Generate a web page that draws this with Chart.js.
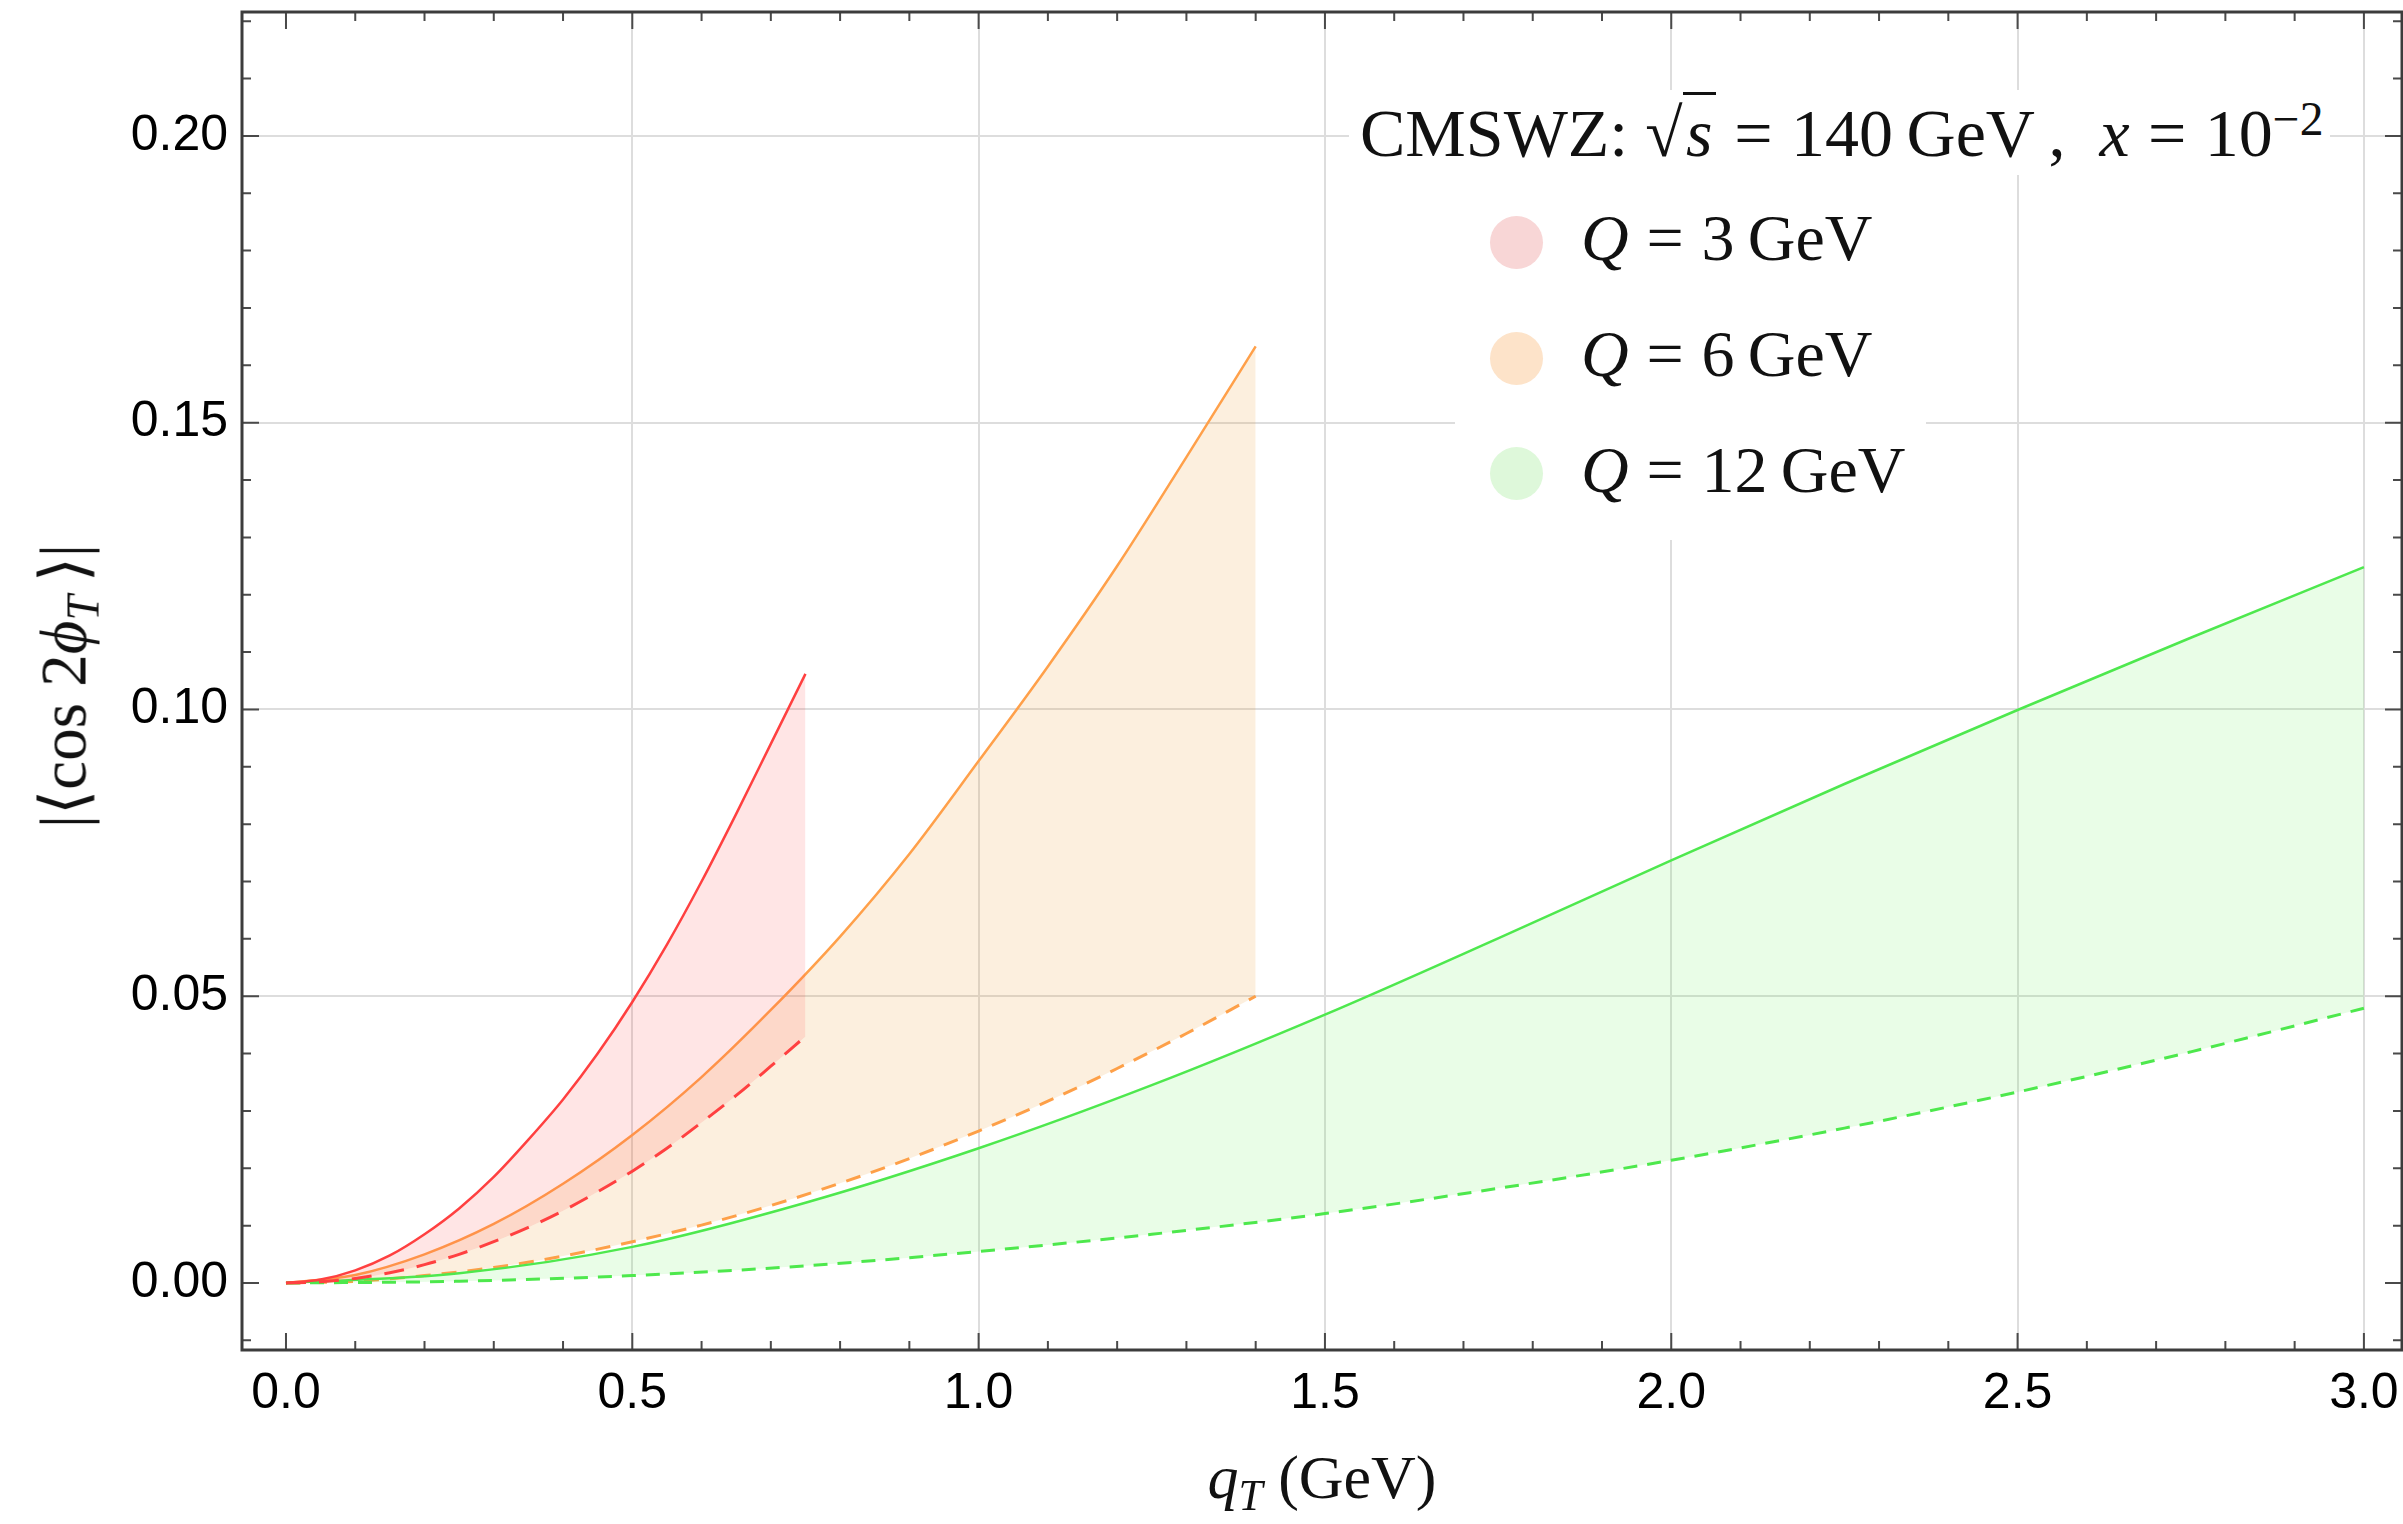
<!DOCTYPE html>
<html>
<head>
<meta charset="utf-8">
<script src="https://cdn.jsdelivr.net/npm/chart.js@4.4.0/dist/chart.umd.min.js"></script>
<style>
  html, body { margin: 0; padding: 0; background: #fff; }
  #wrap { position: relative; width: 2403px; height: 1524px; overflow: hidden; }
  canvas { position: absolute; left: 0; top: 0; }
  .tex { position: absolute; font-family: "Liberation Serif", "DejaVu Serif", serif; color: #111; white-space: nowrap; line-height: 1; }
  .it { font-style: italic; }
  .rel { margin: 0 0.27em; }
  .sub { position: relative; top: 0.28em; font-size: 0.7em; }
  .sup { position: relative; top: -0.45em; font-size: 0.7em; }
  .box { position: absolute; background: #fff; }
  .dot { position: absolute; width: 53px; height: 53px; border-radius: 50%; }
  .rad { border-top: 3px solid #111; padding: 0 0.05em; }
</style>
</head>
<body>
<div id="wrap">
  <canvas id="chart" width="2403" height="1524"></canvas>

  <div class="box" style="left:1349px; top:90px; width:981px; height:85px;"></div>
  <div class="box" style="left:1455px; top:175px; width:471px; height:365px;"></div>

  <div class="tex" style="left:1360px; top:99px; font-size:68px;">CMSWZ:&nbsp;√<span class="it rad">s</span><span class="rel">=</span>140&#8201;GeV&#8201;,&nbsp;&nbsp;<span class="it">x</span><span class="rel">=</span>10<span class="sup">−2</span></div>

  <div class="dot" style="left:1490px; top:216px; background:#f8d6d6;"></div>
  <div class="dot" style="left:1490px; top:332px; background:#fde3c9;"></div>
  <div class="dot" style="left:1490px; top:447px; background:#def8da;"></div>
  <div class="tex" style="left:1581px; top:205px; font-size:66px;"><span class="it">Q</span><span class="rel">=</span>3&#8201;GeV</div>
  <div class="tex" style="left:1581px; top:321px; font-size:66px;"><span class="it">Q</span><span class="rel">=</span>6&#8201;GeV</div>
  <div class="tex" style="left:1581px; top:437px; font-size:66px;"><span class="it">Q</span><span class="rel">=</span>12&#8201;GeV</div>

  <div class="tex" style="left:1322px; top:1446px; font-size:62px; transform:translateX(-50%);"><span class="it">q</span><span class="sub it">T</span>&nbsp;(GeV)</div>
  <div class="tex" style="left:64px; top:686px; font-size:65px; transform:translate(-50%,-50%) rotate(-90deg);">|⟨cos 2<span class="it">ϕ</span><span class="sub it">T</span>&#8201;⟩|</div>
</div>

<script>
// q_T grids and band edges (solid = upper, dashed = lower)
const qtRed = [0, 0.05, 0.1, 0.15, 0.2, 0.25, 0.3, 0.35, 0.4, 0.45, 0.5, 0.55, 0.6, 0.65, 0.7, 0.75];
const redUpper = [0, 0.0006, 0.0022, 0.0048, 0.0085, 0.0130, 0.0185, 0.0250, 0.0320, 0.0400, 0.0490, 0.0590, 0.0700, 0.0818, 0.0940, 0.1062];
const redLower = [0, 0.0002, 0.0008, 0.0018, 0.0032, 0.0050, 0.0072, 0.0097, 0.0126, 0.0159, 0.0195, 0.0235, 0.0280, 0.0327, 0.0378, 0.0430];

const qtOrange = [0, 0.1, 0.2, 0.3, 0.4, 0.5, 0.6, 0.7, 0.8, 0.9, 1.0, 1.1, 1.2, 1.3, 1.4];
const orangeUpper = [0, 0.0014, 0.0050, 0.0103, 0.0173, 0.0258, 0.0359, 0.0476, 0.0604, 0.0748, 0.0910, 0.1075, 0.1250, 0.1440, 0.1633];
const orangeLower = [0, 0.0003, 0.0013, 0.0027, 0.0047, 0.0072, 0.0101, 0.0135, 0.0174, 0.0217, 0.0265, 0.0317, 0.0374, 0.0435, 0.0500];

const qtGreen = [0, 0.25, 0.5, 0.75, 1.0, 1.25, 1.5, 1.75, 2.0, 2.25, 2.5, 2.75, 3.0];
const greenUpper = [0, 0.0017, 0.0063, 0.0140, 0.0235, 0.0345, 0.0468, 0.0601, 0.0737, 0.0870, 0.0999, 0.1125, 0.1248];
const greenLower = [0, 0.0003, 0.0013, 0.0030, 0.0055, 0.0085, 0.0121, 0.0165, 0.0214, 0.0270, 0.0333, 0.0403, 0.0479];

const xTicks = [0, 0.5, 1.0, 1.5, 2.0, 2.5, 3.0];
const yTicks = [0, 0.05, 0.10, 0.15, 0.20];

function pts(xs, ys) {
    return xs.map((x, i) => ({ x: x, y: ys[i] }));
}

function band(xs, upper, lower, line, fill, dash) {
    return [
        {
            data: pts(xs, upper),
            borderColor: line,
            borderWidth: 2.5,
            fill: { target: '+1', above: fill, below: fill }
        },
        {
            data: pts(xs, lower),
            borderColor: line,
            borderWidth: 3,
            borderDash: dash,
            fill: false
        }
    ];
}

// inward frame ticks on all four sides, like the original frame
const frameTicks = {
    id: 'frameTicks',
    afterDatasetsDraw(chart) {
        const { ctx, chartArea: a, scales: { x, y } } = chart;
        ctx.save();
        ctx.strokeStyle = '#4a4a4a';
        ctx.lineWidth = 2;
        ctx.beginPath();
        for (let i = 0; i <= 30; i++) {
            const px = x.getPixelForValue(i / 10);
            const len = i % 5 === 0 ? 17 : 9;
            ctx.moveTo(px, a.bottom); ctx.lineTo(px, a.bottom - len);
            ctx.moveTo(px, a.top); ctx.lineTo(px, a.top + len);
        }
        for (let j = -1; j <= 22; j++) {
            const py = y.getPixelForValue(j / 100);
            const len = j % 5 === 0 ? 17 : 9;
            ctx.moveTo(a.left, py); ctx.lineTo(a.left + len, py);
            ctx.moveTo(a.right, py); ctx.lineTo(a.right - len, py);
        }
        ctx.stroke();
        ctx.lineWidth = 3;
        ctx.strokeStyle = '#3c3c3c';
        ctx.strokeRect(a.left, a.top, a.width, a.height);
        ctx.restore();
    }
};

const gridColor = (c) => (c.tick && c.tick.value === 0) ? 'rgba(0,0,0,0)' : '#dddddd';

function noPad(s) {
    s.paddingTop = 0;
    s.paddingBottom = 0;
    s.paddingLeft = 0;
    s.paddingRight = 0;
}

new Chart(document.getElementById('chart'), {
    type: 'line',
    data: {
        datasets: [
            ...band(qtRed, redUpper, redLower, '#ff4040', 'rgba(255,70,70,0.14)', [20, 13]),
            ...band(qtGreen, greenUpper, greenLower, '#4ee84e', 'rgba(70,235,60,0.12)', [14, 10]),
            ...band(qtOrange, orangeUpper, orangeLower, '#ffa04a', 'rgba(240,160,60,0.17)', [15, 11])
        ]
    },
    options: {
        responsive: false,
        animation: false,
        events: [],
        layout: { padding: { top: 12, right: 1, left: 0, bottom: 0 } },
        elements: {
            point: { radius: 0 },
            line: { cubicInterpolationMode: 'monotone' }
        },
        plugins: {
            legend: { display: false },
            tooltip: { enabled: false }
        },
        scales: {
            x: {
                type: 'linear',
                min: -0.0635,
                max: 3.055,
                afterFit: (s) => { s.height = 174; noPad(s); },
                afterBuildTicks: (s) => { s.ticks = xTicks.map(v => ({ value: v })); },
                border: { display: false },
                grid: { color: gridColor, lineWidth: 2, drawTicks: false },
                ticks: {
                    padding: 14,
                    color: '#000',
                    font: { family: 'Liberation Sans', size: 50 },
                    callback: (v) => v.toFixed(1)
                }
            },
            y: {
                type: 'linear',
                min: -0.01168,
                max: 0.2216,
                afterFit: (s) => { s.width = 242; noPad(s); },
                afterBuildTicks: (s) => { s.ticks = yTicks.map(v => ({ value: v })); },
                border: { display: false },
                grid: { color: gridColor, lineWidth: 2, drawTicks: false },
                ticks: {
                    padding: 14,
                    color: '#000',
                    font: { family: 'Liberation Sans', size: 50 },
                    callback: (v) => v.toFixed(2)
                }
            }
        }
    },
    plugins: [frameTicks]
});
</script>
</body>
</html>
